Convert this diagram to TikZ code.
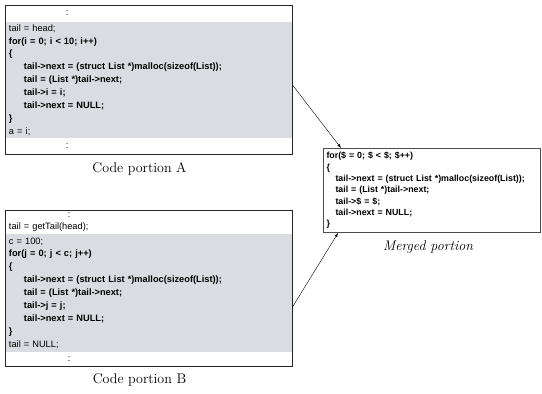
\documentclass[tikz,border=0pt]{standalone}
\usepackage{fontspec}
\newfontfamily\codefont{Liberation Sans}
\usetikzlibrary{positioning,arrows,calc,fit}
\definecolor{bandgray}{RGB}{218,220,225}

\begin{document}
\begin{tikzpicture}[x=1pt,y=-1pt,
		code/.style={font=\codefont\fontsize{9.25}{12.9}\selectfont, text width=279pt,
		minimum width=287pt, inner xsep=4pt, inner ysep=0pt, align=left, outer sep=0pt},
		band/.style={code, fill=bandgray},
		frame/.style={draw=black!85, line width=1pt, inner sep=0pt, fit=#1},
		caption/.style={font=\fontsize{14}{16}\selectfont}]
		\useasboundingbox (0,0) rectangle (542,394);
		\newcommand{\ind}{\hspace*{15pt}}
		\newcommand{\skipdots}{\hspace*{57pt}:}

		\node[code, minimum height=17pt, anchor=north west] (topA) at (5,5) {\skipdots};
		\node[band, minimum height=116pt, below=0pt of topA] (bandA) {
				tail = head;\\
				\textbf{for(i = 0; i < 10; i++)}\\
				\textbf{\{}\\
				\ind\textbf{tail->next = (struct List *)malloc(sizeof(List));}\\
				\ind\textbf{tail = (List *)tail->next;}\\
				\ind\textbf{tail->i = i;}\\
				\ind\textbf{tail->next = NULL;}\\
				\textbf{\}}\\
				a = i;};
		\node[code, minimum height=16pt, below=0pt of bandA] (botA) {\skipdots};
		\node[frame={(topA)(bandA)(botA)}] (portA) {};
		\node[caption, below=4pt of portA, xshift=-9pt] (capA) {Code portion A};

		\node[code, minimum height=24pt, anchor=north west] (topB) at (5,210) {
				\hspace*{59pt}:\\[-1pt]
				tail = getTail(head);};
		\node[band, minimum height=118pt, below=0pt of topB] (bandB) {
				c = 100;\\
				\textbf{for(j = 0; j < c; j++)}\\
				\textbf{\{}\\
				\ind\textbf{tail->next = (struct List *)malloc(sizeof(List));}\\
				\ind\textbf{tail = (List *)tail->next;}\\
				\ind\textbf{tail->j = j;}\\
				\ind\textbf{tail->next = NULL;}\\
				\textbf{\}}\\
				tail = NULL;};
		\node[code, minimum height=14pt, below=0pt of bandB] (botB) {\hspace*{59pt}:};
		\node[frame={(topB)(bandB)(botB)}] (portB) {};
		\node[caption, below=4pt of portB, xshift=-9pt] (capB) {Code portion B};

		\node[draw=black!70, line width=1pt, anchor=north west, text width=211pt,
			minimum height=84pt, inner xsep=3pt, align=left,
			font=\codefont\bfseries\fontsize{8.85}{11.3}\selectfont] (merged) at (323,148) {
				for(\$ = 0; \$ < \$; \$++)\\
				\{\\
				\hspace*{9pt}tail->next = (struct List *)malloc(sizeof(List));\\
				\hspace*{9pt}tail = (List *)tail->next;\\
				\hspace*{9pt}tail->\$ = \$;\\
				\hspace*{9pt}tail->next = NULL;\\
				\}};
		\node[caption, below=4pt of merged, xshift=-4pt] (capM) {\itshape Merged portion};

		\draw[-latex, thin] ([yshift=-5.5pt]portA.east) -- ([xshift=18pt]merged.north west);
		\draw[-latex, thin] ([yshift=-19pt]portB.east) -- ([xshift=15pt]merged.south west);
	\end{tikzpicture}
\end{document}
